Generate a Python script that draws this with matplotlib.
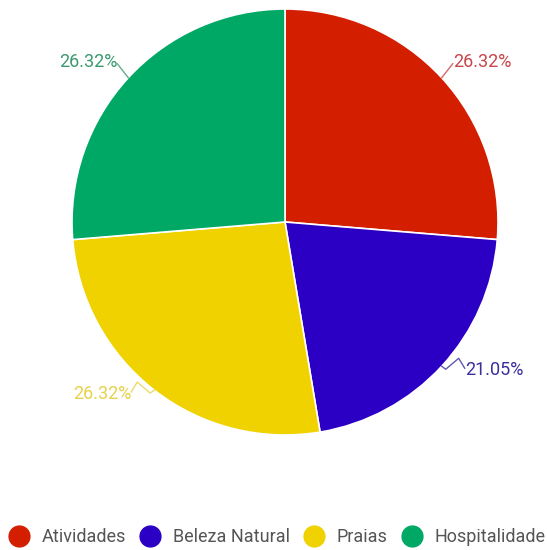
import numpy as np
import matplotlib
matplotlib.use("Agg")
import matplotlib.pyplot as plt
from matplotlib.lines import Line2D

plt.rcParams['font.family'] = ['Roboto', 'DejaVu Sans']

categories = ["Atividades", "Beleza Natural", "Praias", "Hospitalidade"]
values = [5, 4, 5, 5]
colors = ["#D41E00", "#2B00C4", "#EFD200", "#00A866"]
label_colors = ["#C8454A", "#3A2E9E", "#E6D24A", "#3A9A70"]

W, H = 547, 550
fig = plt.figure(figsize=(W / 100, H / 100), dpi=100)
ax = fig.add_axes([0, 0, 1, 1])

cx, cy, r = 285, H - 222, 213
wedges, _ = ax.pie(values, colors=colors, startangle=90, counterclock=False,
                   center=(cx, cy), radius=r,
                   wedgeprops=dict(edgecolor='white', linewidth=1.2))
ax.set_xlim(0, W)
ax.set_ylim(0, H)
ax.set_aspect('equal')
ax.axis('off')

total = sum(values)
pct = [v / total * 100 for v in values]

for w, p, lc in zip(wedges, pct, label_colors):
    mid = np.deg2rad((w.theta1 + w.theta2) / 2)
    ex, ey = cx + r * np.cos(mid), cy + r * np.sin(mid)
    right = np.cos(mid) > 0
    sgn = 1 if right else -1
    upper = np.sin(mid) > 0
    if upper:
        pts = [(ex, ey), (ex + sgn * 11, ey + 14)]
        tx, ty = ex + sgn * 11, ey + 16
    else:
        pts = [(ex, ey), (ex + sgn * 4, ey - 3), (ex + sgn * 17, ey + 8),
               (ex + sgn * 23, ey - 2)]
        tx, ty = ex + sgn * 23, ey - 4
    xs, ys = zip(*pts)
    ax.plot(xs, ys, color=lc, lw=1, alpha=0.8)
    ax.text(tx, ty, f"{p:.2f}%", color=lc, fontsize=13,
            ha='left' if right else 'right', va='center')

handles = [Line2D([], [], marker='o', linestyle='', markersize=15,
                  markerfacecolor=c, markeredgecolor=c) for c in colors]
leg = fig.legend(handles, categories, loc='center',
                 bbox_to_anchor=(0.5 + 3 / W, 1 - 537 / H),
                 ncol=4, frameon=False, fontsize=13, handletextpad=0.6,
                 columnspacing=0.7, handlelength=1.3, borderaxespad=0, borderpad=0)
for t in leg.get_texts():
    t.set_color('#555555')

fig.savefig("out.png", dpi=100)
